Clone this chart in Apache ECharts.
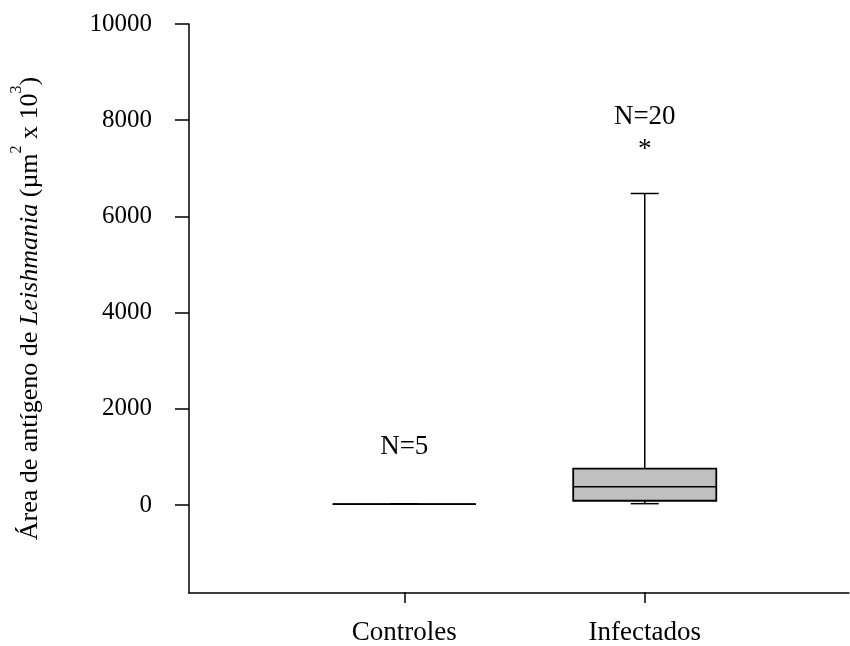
<!DOCTYPE html>
<html><head><meta charset="utf-8">
<script src="https://cdn.jsdelivr.net/npm/echarts@6/dist/echarts.min.js"></script>
<style>html,body{margin:0;padding:0;background:#fff}#c{width:850px;height:646px}</style>
</head><body><div id="c"></div>
<script>
// ---- data ----
const categories = ['Controles', 'Infectados'];
const whiskerMin = [0, 10];
const q1 = [0, 70];
const median = [0, 360];
const q3 = [0, 740];
const whiskerMax = [0, 6470];
const nLabels = ['N=5', 'N=20'];
const nLabelAt = [1200, 8070];
const outliers = [[1, 7480]];
const yTicks = [0, 2000, 4000, 6000, 8000, 10000];
const yMin = -1830, yMax = 10000;

const FONT = "'Liberation Serif', 'Times New Roman', serif";
const chart = echarts.init(document.getElementById('c'), null, {renderer: 'canvas'});
const boxData = categories.map((c, i) => [i, whiskerMin[i], q1[i], median[i], q3[i], whiskerMax[i]]);
const labelData = categories.map((c, i) => [i, nLabelAt[i]]);

function renderBox(params, api) {
  const i = api.value(0);
  const band = api.size([1, 0])[0];
  const bw = band * 0.595, cw = band * 0.1165;
  const p = k => api.coord([i, api.value(k)]);
  const pMin = p(1), pQ1 = p(2), pMed = p(3), pQ3 = p(4), pMax = p(5);
  const x = pMed[0];
  const ls = {stroke: '#000', lineWidth: 1.5};
  return {type: 'group', children: [
    {type: 'line', shape: {x1: x, y1: pQ3[1], x2: x, y2: pMax[1]}, style: ls},
    {type: 'line', shape: {x1: x, y1: pQ1[1], x2: x, y2: pMin[1]}, style: ls},
    {type: 'line', shape: {x1: x - cw / 2, y1: pMax[1], x2: x + cw / 2, y2: pMax[1]}, style: ls},
    {type: 'line', shape: {x1: x - cw / 2, y1: pMin[1], x2: x + cw / 2, y2: pMin[1]}, style: ls},
    {type: 'rect', shape: {x: x - bw / 2, y: pQ3[1], width: bw, height: pQ1[1] - pQ3[1]},
      style: {fill: '#c0c0c0', stroke: '#000', lineWidth: 1.8}},
    {type: 'line', shape: {x1: x - bw / 2, y1: pMed[1], x2: x + bw / 2, y2: pMed[1]}, style: ls}
  ]};
}
function renderText(txtFn, dy) {
  return function (params, api) {
    const pt = api.coord([api.value(0), api.value(1)]);
    return {type: 'text', x: pt[0], y: pt[1] + dy,
      style: {text: txtFn(api.value(0)), fontSize: 27, fontFamily: FONT, fill: '#000',
        align: 'center', verticalAlign: 'middle'}};
  };
}

const option = {
  backgroundColor: '#fff',
  animation: false,
  grid: [
    {left: 189, right: 1, top: 24, bottom: 53},
    {left: 284, right: 85, top: 24, bottom: 53}
  ],
  xAxis: [
    {gridIndex: 0, type: 'value', min: 0, max: 1,
      axisLine: {show: true, onZero: false, lineStyle: {color: '#000', width: 1.5}},
      axisTick: {show: false}, axisLabel: {show: false}, splitLine: {show: false}},
    {gridIndex: 1, type: 'category', data: categories, position: 'bottom',
      axisLine: {show: false, onZero: false},
      axisTick: {show: true, alignWithLabel: true, length: 11, lineStyle: {color: '#000', width: 1.5}},
      axisLabel: {margin: 27, color: '#000', fontSize: 27, fontFamily: FONT},
      splitLine: {show: false}}
  ],
  yAxis: [
    {gridIndex: 0, type: 'value', min: yMin, max: yMax,
      axisLine: {show: true, onZero: false, lineStyle: {color: '#000', width: 1.5}},
      axisTick: {show: true, inside: false, length: 14, customValues: yTicks, lineStyle: {color: '#000', width: 1.5}},
      axisLabel: {customValues: yTicks, margin: 37, color: '#000', fontSize: 25, fontFamily: FONT,
        formatter: v => String(v)},
      splitLine: {show: false},
      name: '{n|Área de antígeno de }{i|Leishmania}{n| (µm}{s|2}{n| x 10}{s|3}{n|)}',
      nameLocation: 'middle', nameRotate: 90, nameGap: 138,
      nameTextStyle: {
        rich: {
          n: {fontSize: 26, fontFamily: FONT, color: '#000'},
          i: {fontSize: 26, fontFamily: FONT, fontStyle: 'italic', color: '#000'},
          s: {fontSize: 16, fontFamily: FONT, color: '#000', padding: [0, 0, 26, 0]}
        }
      }},
    {gridIndex: 1, type: 'value', min: yMin, max: yMax, show: false}
  ],
  series: [
    {type: 'custom', xAxisIndex: 1, yAxisIndex: 1, data: boxData,
      encode: {x: 0, y: [1, 2, 3, 4, 5]}, renderItem: renderBox, silent: true},
    {type: 'custom', xAxisIndex: 1, yAxisIndex: 1, data: labelData,
      encode: {x: 0, y: 1}, renderItem: renderText(i => nLabels[i], 0), silent: true},
    {type: 'custom', xAxisIndex: 1, yAxisIndex: 1, data: outliers,
      encode: {x: 0, y: 1}, renderItem: renderText(() => '*', 5), silent: true}
  ]
};
chart.setOption(option);
</script>
</body></html>
